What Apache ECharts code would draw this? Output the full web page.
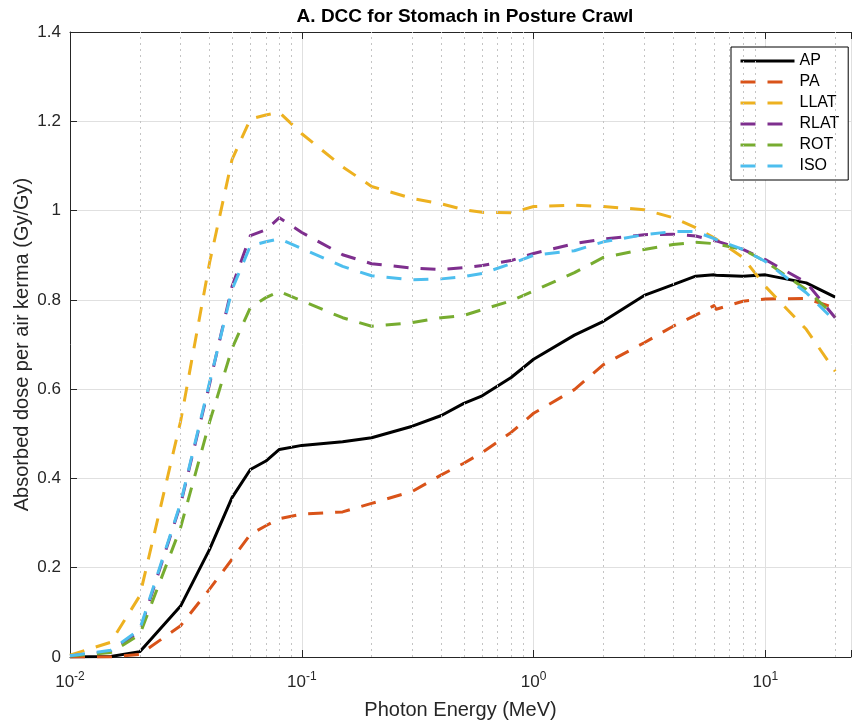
<!DOCTYPE html>
<html>
<head>
<meta charset="utf-8">
<title>DCC for Stomach in Posture Crawl</title>
<script src="https://cdn.jsdelivr.net/npm/echarts@6/dist/echarts.min.js"></script>
<style>
  html, body { margin: 0; padding: 0; background: #fff; }
  #chart { width: 854px; height: 725px; }
</style>
</head>
<body>
<div id="chart"></div>
<script>
// photon energies (MeV)
const energies = [0.01, 0.015, 0.02, 0.03, 0.04, 0.05, 0.06, 0.07, 0.08, 0.1, 0.15, 0.2, 0.3, 0.4, 0.5, 0.6, 0.8, 1, 1.5, 2, 3, 4, 5, 6, 6.129, 8, 10, 15, 20];

// absorbed dose per air kerma (Gy/Gy), one array per irradiation geometry
const apValues = [0, 0.001, 0.012, 0.114, 0.241, 0.357, 0.420, 0.439, 0.465, 0.474, 0.482, 0.491, 0.517, 0.541, 0.568, 0.585, 0.626, 0.667, 0.721, 0.752, 0.810, 0.834, 0.853, 0.856, 0.855, 0.853, 0.856, 0.838, 0.806];
const paValues = [0, 0, 0.006, 0.070, 0.152, 0.219, 0.275, 0.294, 0.310, 0.320, 0.325, 0.344, 0.371, 0.408, 0.434, 0.458, 0.503, 0.546, 0.599, 0.655, 0.704, 0.741, 0.766, 0.787, 0.779, 0.797, 0.802, 0.803, 0.782];
const llatValues = [0.004, 0.033, 0.137, 0.528, 0.883, 1.114, 1.205, 1.214, 1.220, 1.172, 1.098, 1.054, 1.027, 1.015, 1.002, 0.996, 0.995, 1.009, 1.012, 1.009, 1.002, 0.984, 0.962, 0.939, 0.936, 0.895, 0.830, 0.734, 0.640];
const rlatValues = [0.002, 0.013, 0.058, 0.342, 0.611, 0.830, 0.944, 0.957, 0.984, 0.951, 0.901, 0.881, 0.871, 0.868, 0.872, 0.877, 0.888, 0.904, 0.926, 0.936, 0.946, 0.947, 0.943, 0.933, 0.932, 0.913, 0.890, 0.839, 0.760];
const rotValues = [0.002, 0.010, 0.050, 0.290, 0.526, 0.691, 0.783, 0.805, 0.819, 0.798, 0.760, 0.741, 0.749, 0.760, 0.765, 0.778, 0.798, 0.820, 0.861, 0.895, 0.913, 0.924, 0.929, 0.926, 0.925, 0.913, 0.886, 0.823, 0.763];
const isoValues = [0.003, 0.015, 0.062, 0.345, 0.615, 0.823, 0.921, 0.930, 0.937, 0.915, 0.875, 0.854, 0.845, 0.847, 0.852, 0.859, 0.881, 0.900, 0.910, 0.930, 0.946, 0.953, 0.953, 0.937, 0.935, 0.913, 0.886, 0.816, 0.752];

const seriesNames = ['AP', 'PA', 'LLAT', 'RLAT', 'ROT', 'ISO'];
const seriesValues = [apValues, paValues, llatValues, rlatValues, rotValues, isoValues];
const seriesColors = ['#000000', '#D95319', '#EDB120', '#7E2F8E', '#77AC30', '#4DBEEE'];

const FONT = '"Liberation Sans", Arial, Helvetica, sans-serif';
const X_MIN = 0.01;
const X_MAX = 23.4;

// dotted minor grid at 2..9 x 10^n
const minorLines = [];
for (let e = -2; e <= 1; e++) {
  for (let k = 2; k <= 9; k++) {
    const v = k * Math.pow(10, e);
    if (v < X_MAX) minorLines.push({ xAxis: v });
  }
}

function decadeLabel(value) {
  const p = Math.log10(value);
  const e = Math.round(p);
  if (Math.abs(p - e) > 1e-6) return '';
  return '{b|10}{s|' + e + '}';
}

const chart = echarts.init(document.getElementById('chart'), null, { renderer: 'canvas' });

const lineSeries = seriesNames.map((name, i) => ({
  name: name,
  type: 'line',
  xAxisIndex: 0,
  data: energies.map((x, j) => [x, seriesValues[i][j]]),
  symbol: 'none',
  smooth: false,
  z: 3,
  color: seriesColors[i],
  lineStyle: {
    color: seriesColors[i],
    width: 3,
    type: i === 0 ? 'solid' : [15, 12],
    cap: 'butt',
    join: 'round',
  },
  emphasis: { disabled: true },
}));

chart.setOption({
  animation: false,
  backgroundColor: '#ffffff',
  title: {
    text: 'A. DCC for Stomach in Posture Crawl',
    left: 465,
    top: 7,
    textAlign: 'center',
    padding: 0,
    textStyle: { fontFamily: FONT, fontSize: 19, fontWeight: 'bold', color: '#000' },
  },
  legend: {
    data: seriesNames,
    orient: 'vertical',
    left: 731,
    top: 47,
    padding: [6, 9, 6, 8],
    itemWidth: 54,
    itemHeight: 14,
    itemGap: 5,
    backgroundColor: '#fff',
    borderColor: '#000',
    borderWidth: 1,
    borderRadius: 0,
    selectedMode: false,
    itemStyle: { opacity: 0, borderWidth: 0 },
    lineStyle: { width: 3 },
    textStyle: { fontFamily: FONT, fontSize: 16, color: '#000' },
  },
  grid: { left: 70, right: -2, top: 32, bottom: 67, containLabel: false },
  xAxis: [
    {
      type: 'log',
      logBase: 10,
      min: X_MIN,
      max: X_MAX,
      name: 'Photon Energy (MeV)',
      nameLocation: 'middle',
      nameGap: 43,
      nameTextStyle: { fontFamily: FONT, fontSize: 20, color: '#262626' },
      axisLine: { show: true, onZero: false, lineStyle: { color: '#262626', width: 1 } },
      axisTick: { show: true, inside: true, length: 7, lineStyle: { color: '#262626' } },
      axisLabel: {
        margin: 14,
        showMinLabel: true,
        showMaxLabel: true,
        formatter: decadeLabel,
        rich: {
          b: { fontFamily: FONT, fontSize: 17, color: '#262626', lineHeight: 20, verticalAlign: 'bottom' },
          s: { fontFamily: FONT, fontSize: 12, color: '#262626', lineHeight: 10, verticalAlign: 'top' },
        },
      },
      splitLine: { show: true, lineStyle: { color: '#e0e0e0', width: 1 } },
      minorTick: { show: false },
    },
    {
      type: 'log',
      logBase: 10,
      min: X_MIN,
      max: X_MAX,
      position: 'top',
      axisLine: { show: true, onZero: false, lineStyle: { color: '#262626', width: 1 } },
      axisTick: { show: true, inside: true, length: 7, lineStyle: { color: '#262626' } },
      axisLabel: { show: false },
      splitLine: { show: false },
    },
  ],
  yAxis: {
    type: 'value',
    min: 0,
    max: 1.4,
    interval: 0.2,
    name: 'Absorbed dose per air kerma (Gy/Gy)',
    nameLocation: 'middle',
    nameGap: 38,
    nameMoveOverlap: false,
    nameTextStyle: { fontFamily: FONT, fontSize: 20, color: '#262626' },
    axisLine: { show: true, lineStyle: { color: '#262626', width: 1 } },
    axisTick: { show: true, inside: true, length: 7, lineStyle: { color: '#262626' } },
    axisLabel: {
      margin: 9,
      fontFamily: FONT,
      fontSize: 17,
      color: '#262626',
      formatter: (v) => String(Math.round(v * 10) / 10),
    },
    splitLine: { show: true, lineStyle: { color: '#e0e0e0', width: 1 } },
  },
  series: [
    {
      name: 'minor-grid',
      type: 'line',
      data: [],
      z: 1,
      silent: true,
      markLine: {
        silent: true,
        symbol: ['none', 'none'],
        label: { show: false },
        emphasis: { disabled: true },
        lineStyle: { color: '#c4c4c4', width: 1, type: [2, 4] },
        data: minorLines,
      },
    },
  ].concat(lineSeries),
});
</script>
</body>
</html>
